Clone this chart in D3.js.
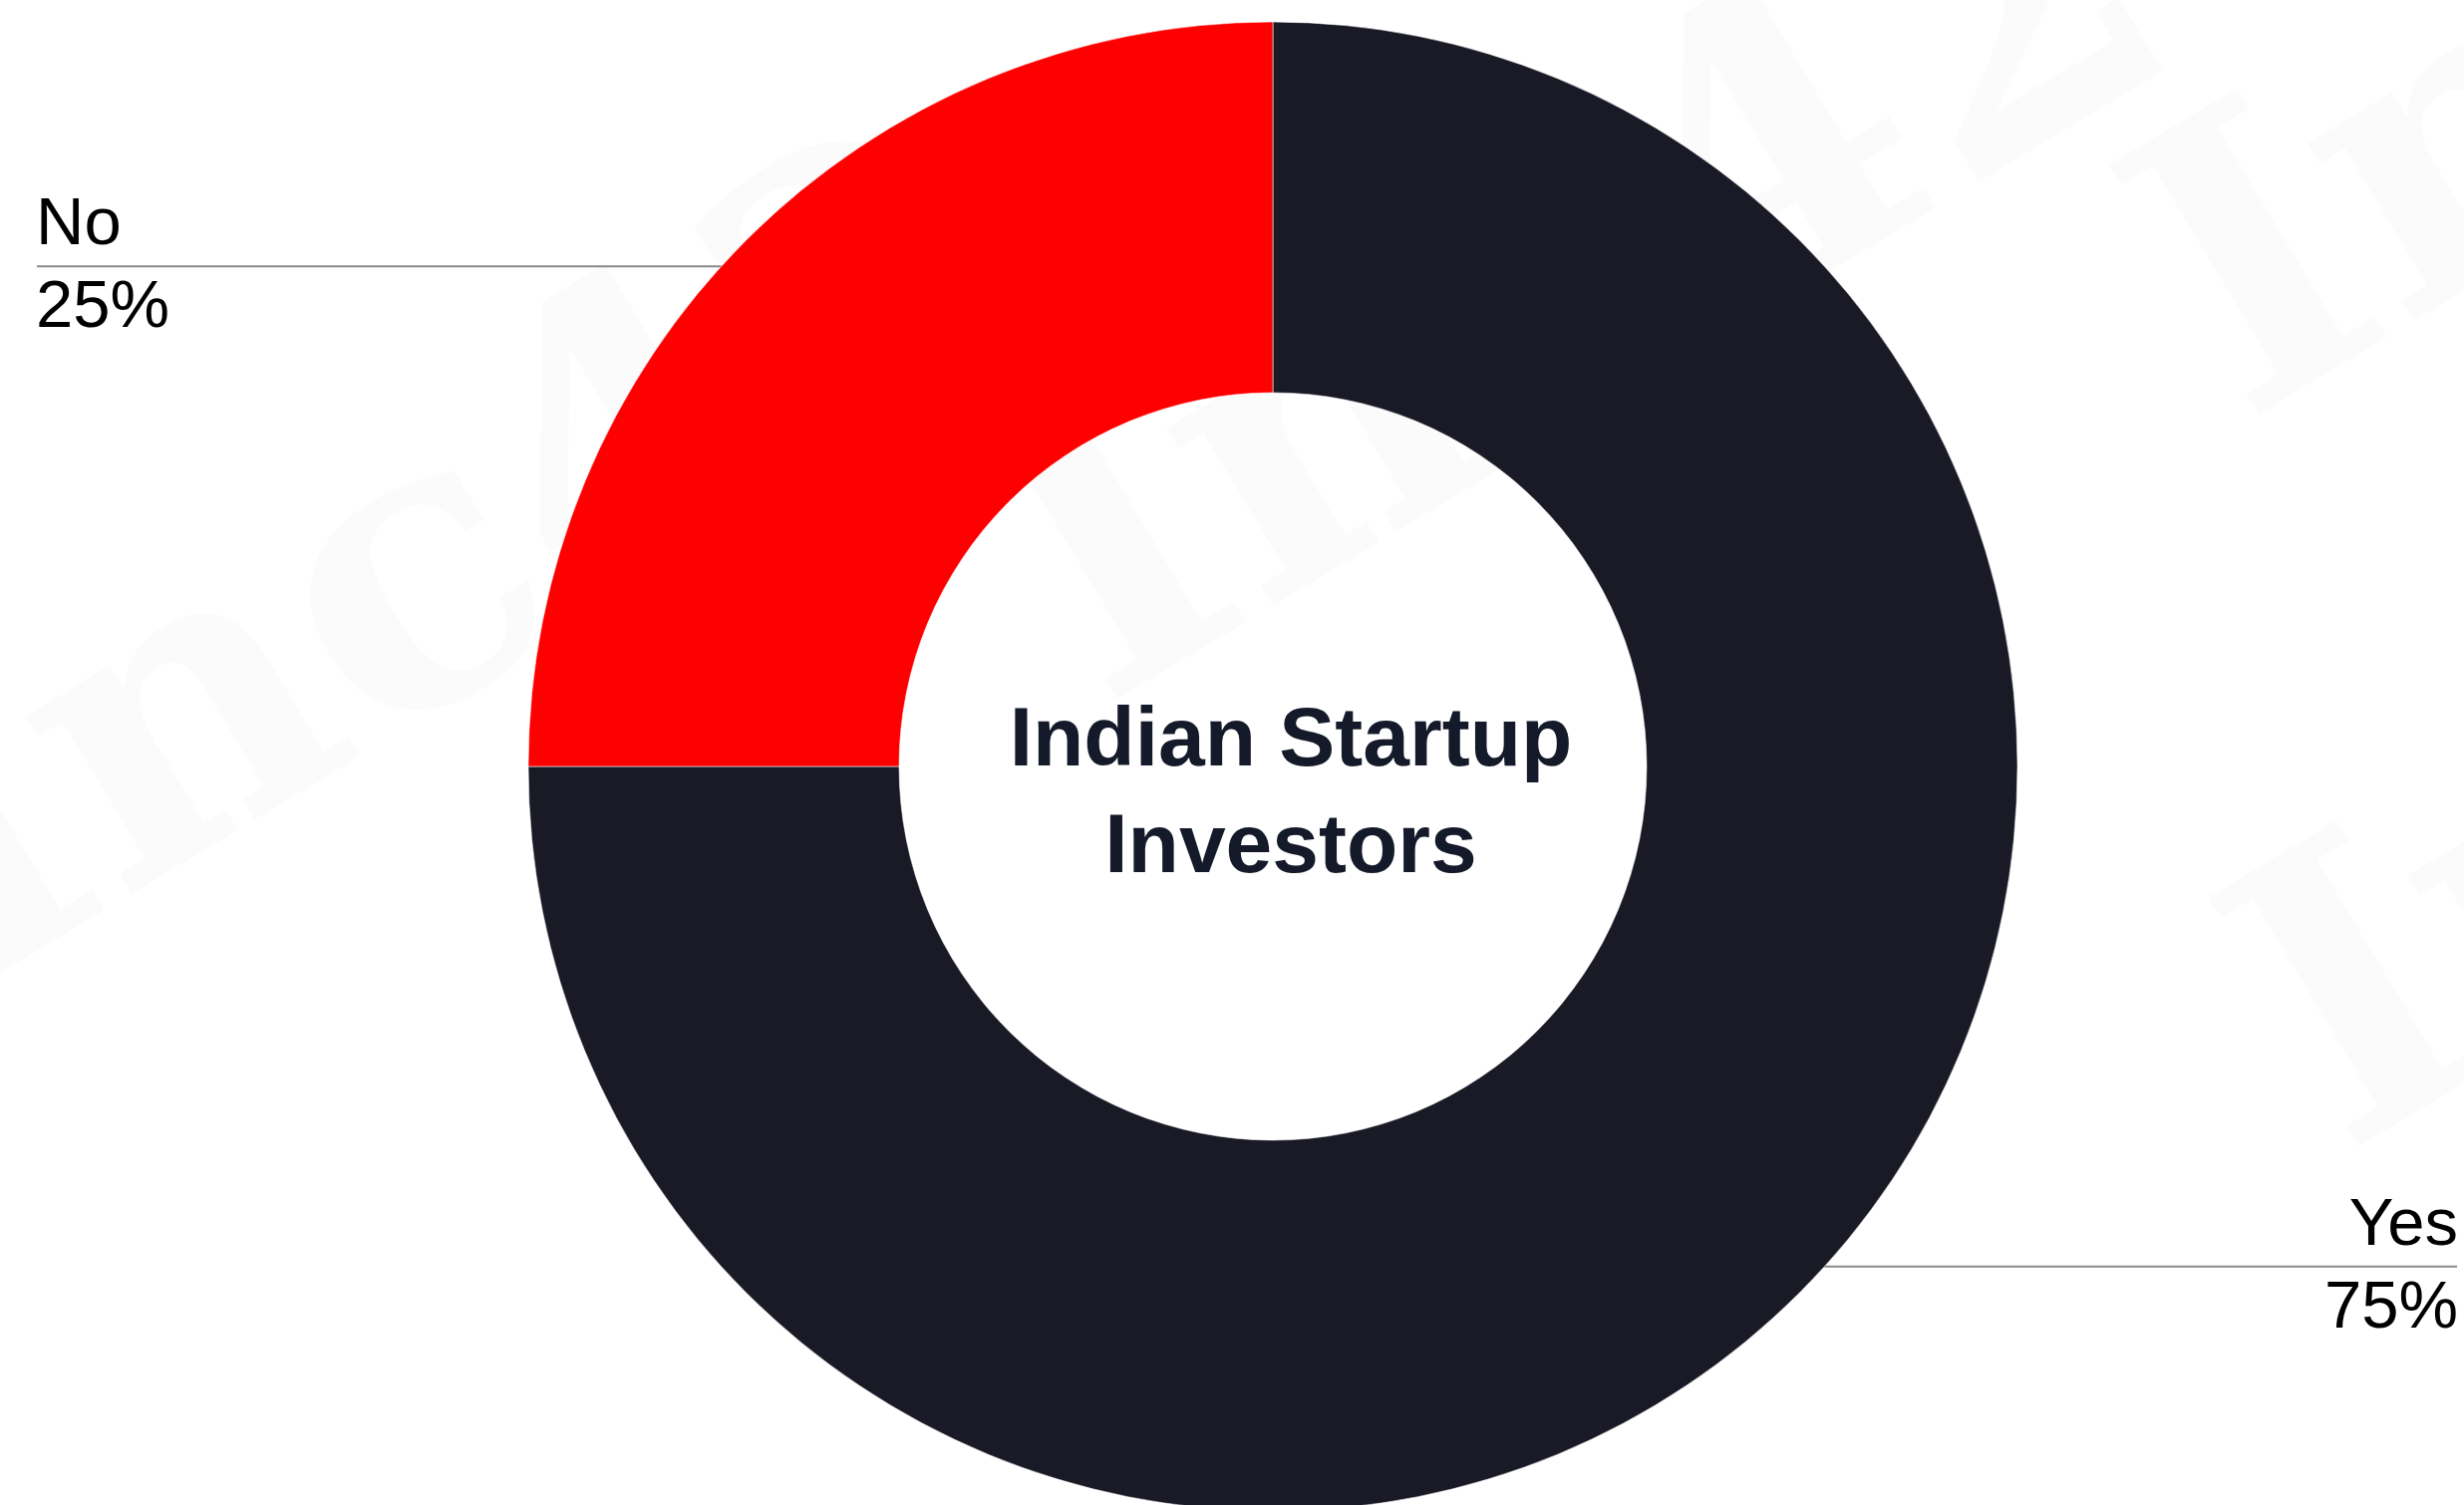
<!DOCTYPE html>
<html>
<head>
<meta charset="utf-8">
<script src="https://cdn.jsdelivr.net/npm/d3@7"></script>
<style>
  html, body { margin: 0; padding: 0; background: #ffffff; }
  svg { display: block; }
</style>
</head>
<body>
<script>
// Survey split: share of Indian startup investors answering Yes / No
const categories = ["Yes", "No"];
const shares = [75, 25];
const sliceColors = ["#191a26", "#ff0000"];
const centerTitle = ["Indian Startup", "Investors"];
const watermarkText = "Inc42";

const W = 2472, H = 1510;
const cx = 1277, cy = 769;
const outerR = 747, innerR = 375;

const svg = d3.select("body").append("svg")
  .attr("width", W).attr("height", H);

svg.append("rect").attr("width", W).attr("height", H).attr("fill", "#ffffff");

// faint brand watermark tiled behind the chart
const wm = svg.append("g").attr("fill", "#fbfbfb")
  .attr("font-family", "'DejaVu Serif', serif")
  .attr("font-weight", "bold")
  .attr("font-size", 400);
[[-40, 1000], [1105, 711], [2250, 425], [2350, 1160]].forEach(([x, y]) => {
  wm.append("text")
    .attr("transform", `translate(${x},${y}) rotate(-31)`)
    .text(watermarkText);
});

const data = categories.map((c, i) => ({ label: c, value: shares[i], color: sliceColors[i] }));

const pie = d3.pie().sort(null).value(d => d.value);
const arcs = pie(data);
const arc = d3.arc().innerRadius(innerR).outerRadius(outerR);

const g = svg.append("g").attr("transform", `translate(${cx},${cy})`);

g.selectAll("path.slice")
  .data(arcs)
  .join("path")
  .attr("class", "slice")
  .attr("d", arc)
  .attr("fill", d => d.data.color)
  .attr("stroke", "#ffffff")
  .attr("stroke-opacity", 0.55)
  .attr("stroke-width", 1);

// centre title
const title = g.append("text")
  .attr("text-anchor", "middle")
  .attr("font-family", "'Liberation Sans', Arial, sans-serif")
  .attr("font-weight", "bold")
  .attr("font-size", 84)
  .attr("fill", "#141a29");
centerTitle.forEach((line, i) => {
  title.append("tspan").attr("x", 18).attr("y", -1 + i * 107).text(line);
});

// callout labels: a rule from the outer edge to the page margin,
// category above the rule and percentage below
const fmt = d => d + "%";
const leftX = 36, rightX = 2466;
arcs.forEach(a => {
  const mid = (a.startAngle + a.endAngle) / 2;
  const ly = -Math.cos(mid) * outerR * 0.95;   // y of the rule, relative to centre
  const edgeX = Math.sqrt(outerR * outerR - ly * ly);
  const onRight = Math.sin(mid) > 0;
  const x0 = onRight ? edgeX : -edgeX;
  const x1 = onRight ? rightX - cx - 1 : leftX - cx + 1;
  g.append("line")
    .attr("x1", x0).attr("y1", ly)
    .attr("x2", x1).attr("y2", ly)
    .attr("stroke", "#8a8a8a")
    .attr("stroke-width", 2);
  const tx = onRight ? rightX - cx : leftX - cx;
  const anchor = onRight ? "end" : "start";
  const lab = g.append("g")
    .attr("font-family", "'Liberation Sans', Arial, sans-serif")
    .attr("font-size", 67)
    .attr("fill", "#000000")
    .attr("text-anchor", anchor);
  lab.append("text").attr("x", tx).attr("y", ly - 22).text(a.data.label);
  lab.append("text").attr("x", tx).attr("y", ly + 61).text(fmt(a.data.value));
});
</script>
</body>
</html>
